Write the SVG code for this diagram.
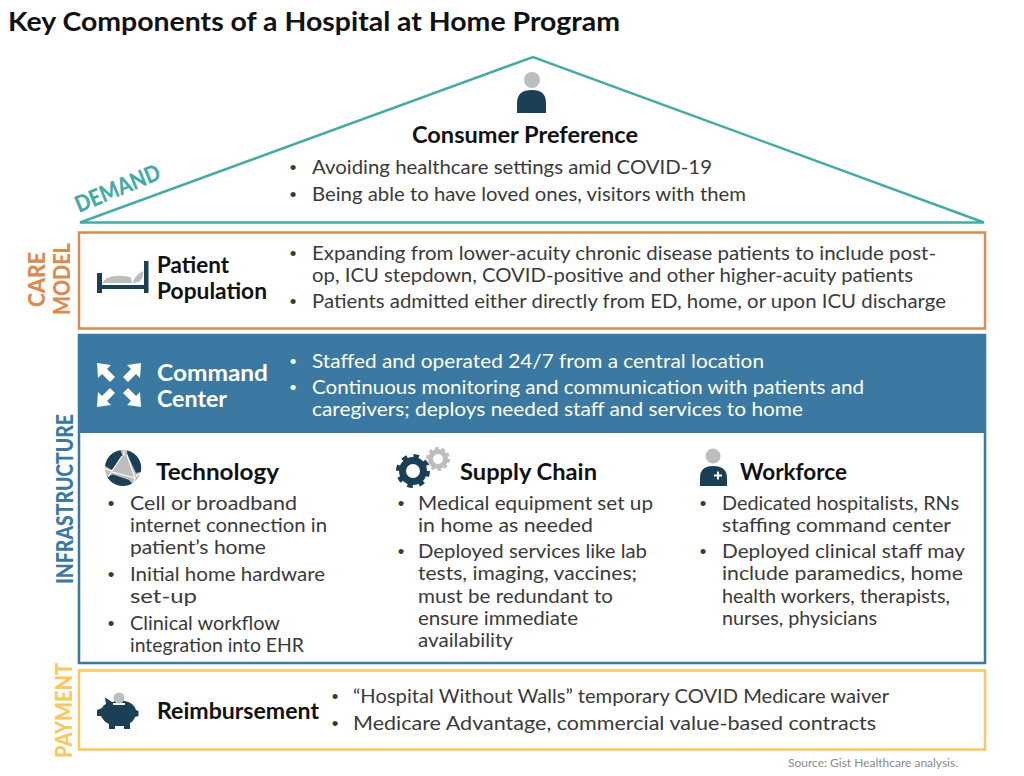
<svg xmlns="http://www.w3.org/2000/svg" width="1024" height="776" viewBox="0 0 1024 776">
<style>
text{font-family:"Lato","Liberation Sans",sans-serif}
.t{font-size:19px;fill:#3a3a3a}
.b{font-size:19px;fill:#3a3a3a;font-family:"Liberation Sans",sans-serif}
.w{font-size:19px;fill:#fff}
.bw{font-size:19px;fill:#fff;font-family:"Liberation Sans",sans-serif}
.h{font-size:23px;font-weight:700;fill:#111}
.hw{font-size:23px;font-weight:700;fill:#fff}
.lab{font-size:23px;font-weight:900}
.dk{fill:#1b3f55}.gy{fill:#bdbdbd}
</style>
<rect width="1024" height="776" fill="#fff"/>
<text x="8" y="31" font-size="27" font-weight="700" fill="#111" textLength="612" lengthAdjust="spacingAndGlyphs">Key Components of a Hospital at Home Program</text>

<g id="demand">
<path d="M80 222.500H984L533 57Z" fill="none" stroke="#45aba7" stroke-width="2.500"/>
<text class="lab" fill="#45aba7" transform="translate(79 213) rotate(-22.500)" textLength="90" lengthAdjust="spacingAndGlyphs">DEMAND</text>
<g id="consumer-icon"><circle class="gy" cx="532" cy="80" r="8"/><path class="dk" d="M517 113V103Q517 90 532 90Q546 90 546 103V113Z"/></g>
<text class="h" x="412" y="143" textLength="226" lengthAdjust="spacingAndGlyphs">Consumer Preference</text>
<text class="b" x="289.700" y="174">•</text><text class="t" x="312" y="174" textLength="400" lengthAdjust="spacingAndGlyphs">Avoiding healthcare settings amid COVID-19</text>
<text class="b" x="289.700" y="201">•</text><text class="t" x="312" y="201" textLength="434" lengthAdjust="spacingAndGlyphs">Being able to have loved ones, visitors with them</text>
</g>

<g id="care-model">
<rect x="79" y="232.500" width="906" height="96" fill="none" stroke="#dc8a4d" stroke-width="2.500"/>
<text class="lab" fill="#dc8a4d" transform="translate(44.500 307) rotate(-90)" textLength="55" lengthAdjust="spacingAndGlyphs">CARE</text>
<text class="lab" fill="#dc8a4d" transform="translate(70 315) rotate(-90)" textLength="72" lengthAdjust="spacingAndGlyphs">MODEL</text>
<g id="bed-icon"><path class="dk" d="M97 273h5v12h42v-24h4.500v32h-4.500v-4H102v4h-5Z"/><path class="gy" d="M103 283q1-5 9-6.500q10-2 19 1l1 5.500ZM133 283q1-7 10-12q1 7-4 11Z"/></g>
<text class="h" x="157" y="273" textLength="72" lengthAdjust="spacingAndGlyphs">Patient</text>
<text class="h" x="157" y="299" textLength="110" lengthAdjust="spacingAndGlyphs">Population</text>
<text class="b" x="289.700" y="260">•</text><text class="t" x="312" y="260" textLength="624" lengthAdjust="spacingAndGlyphs">Expanding from lower-acuity chronic disease patients to include post-</text>
<text class="t" x="312" y="282" textLength="601" lengthAdjust="spacingAndGlyphs">op, ICU stepdown, COVID-positive and other higher-acuity patients</text>
<text class="b" x="289.700" y="308">•</text><text class="t" x="312" y="308" textLength="634" lengthAdjust="spacingAndGlyphs">Patients admitted either directly from ED, home, or upon ICU discharge</text>
</g>

<g id="infrastructure">
<rect x="79" y="335" width="906" height="328" fill="none" stroke="#3b79a2" stroke-width="2.500"/>
<rect x="78" y="335" width="908" height="98" fill="#3b79a2"/>
<text class="lab" fill="#3b79a2" transform="translate(73 584) rotate(-90)" textLength="170" lengthAdjust="spacingAndGlyphs">INFRASTRUCTURE</text>
</g>

<g id="command-center">
<g id="arrows-icon" fill="#fff">
<path d="M97 363L111 365L107 369L115 377L110 382L102 374L98 378Z"/>
<path d="M97 363L111 365L107 369L115 377L110 382L102 374L98 378Z" transform="translate(238 0) scale(-1 1)"/>
<path d="M97 363L111 365L107 369L115 377L110 382L102 374L98 378Z" transform="translate(0 770) scale(1 -1)"/>
<path d="M97 363L111 365L107 369L115 377L110 382L102 374L98 378Z" transform="translate(238 770) scale(-1 -1)"/>
</g>
<text class="hw" x="157" y="380.500" textLength="111" lengthAdjust="spacingAndGlyphs">Command</text>
<text class="hw" x="157" y="406.500" textLength="70" lengthAdjust="spacingAndGlyphs">Center</text>
<text class="bw" x="289.700" y="368">•</text><text class="w" x="312" y="368" textLength="452" lengthAdjust="spacingAndGlyphs">Staffed and operated 24/7 from a central location</text>
<text class="bw" x="289.700" y="394">•</text><text class="w" x="312" y="394" textLength="552" lengthAdjust="spacingAndGlyphs">Continuous monitoring and communication with patients and</text>
<text class="w" x="312" y="416" textLength="491" lengthAdjust="spacingAndGlyphs">caregivers; deploys needed staff and services to home</text>
</g>

<g id="technology">
<g id="tech-icon"><circle class="gy" cx="123" cy="468" r="18"/>
<path class="dk" d="M120.500 450.200A18 18 0 0 0 105.100 466L112 470L122.500 456ZM127 450.500A18 18 0 0 1 140.800 472L136 473L127.500 455ZM107 476.500A18 18 0 0 0 132 483.500L129 480L113 474.500Z"/>
<path d="M124 451L124 456M122 456L112 471L108 477M127 455L135 478L134 484M112 472L135 478M105 469L112 471M136 476L141 473" stroke="#fff" stroke-width="1.200" fill="none"/>
</g>
<text class="h" x="156" y="480" textLength="123" lengthAdjust="spacingAndGlyphs">Technology</text>
<text class="b" x="107.700" y="510">•</text><text class="t" x="130" y="510" textLength="167" lengthAdjust="spacingAndGlyphs">Cell or broadband</text>
<text class="t" x="130" y="532" textLength="197" lengthAdjust="spacingAndGlyphs">internet connection in</text>
<text class="t" x="130" y="554" textLength="136" lengthAdjust="spacingAndGlyphs">patient’s home</text>
<text class="b" x="107.700" y="581">•</text><text class="t" x="130" y="581" textLength="195" lengthAdjust="spacingAndGlyphs">Initial home hardware</text>
<text class="t" x="130" y="603" textLength="67" lengthAdjust="spacingAndGlyphs">set-up</text>
<text class="b" x="107.700" y="630">•</text><text class="t" x="130" y="630" textLength="150" lengthAdjust="spacingAndGlyphs">Clinical workflow</text>
<text class="t" x="130" y="652" textLength="174" lengthAdjust="spacingAndGlyphs">integration into EHR</text>
</g>

<g id="supply-chain">
<g id="gears-icon">
<circle cx="438" cy="459" r="7.500" fill="none" stroke="#bdbdbd" stroke-width="5"/><circle cx="438" cy="459" r="10.500" fill="none" stroke="#bdbdbd" stroke-width="3" stroke-dasharray="3.500 3.100"/>
<circle cx="413" cy="471" r="10.500" fill="none" stroke="#1b3f55" stroke-width="7"/><circle cx="413" cy="471" r="15" fill="none" stroke="#1b3f55" stroke-width="4" stroke-dasharray="5.500 6.280"/>
</g>
<text class="h" x="460" y="480" textLength="137" lengthAdjust="spacingAndGlyphs">Supply Chain</text>
<text class="b" x="397.700" y="510">•</text><text class="t" x="418" y="510" textLength="235" lengthAdjust="spacingAndGlyphs">Medical equipment set up</text>
<text class="t" x="418" y="532" textLength="175" lengthAdjust="spacingAndGlyphs">in home as needed</text>
<text class="b" x="397.700" y="558">•</text><text class="t" x="418" y="558" textLength="229" lengthAdjust="spacingAndGlyphs">Deployed services like lab</text>
<text class="t" x="418" y="580" textLength="219" lengthAdjust="spacingAndGlyphs">tests, imaging, vaccines;</text>
<text class="t" x="418" y="603" textLength="195" lengthAdjust="spacingAndGlyphs">must be redundant to</text>
<text class="t" x="418" y="625" textLength="160" lengthAdjust="spacingAndGlyphs">ensure immediate</text>
<text class="t" x="418" y="647" textLength="95" lengthAdjust="spacingAndGlyphs">availability</text>
</g>

<g id="workforce">
<g id="worker-icon"><circle class="gy" cx="713" cy="456" r="7.500"/><path class="dk" d="M700 486V478Q700 466 713 466Q727 466 727 478V486Z"/><path fill="#fff" d="M717 471.500h2v3h3v2h-3v3h-2v-3h-3v-2h3Z"/></g>
<text class="h" x="740" y="480" textLength="107" lengthAdjust="spacingAndGlyphs">Workforce</text>
<text class="b" x="699.700" y="510">•</text><text class="t" x="722" y="510" textLength="237" lengthAdjust="spacingAndGlyphs">Dedicated hospitalists, RNs</text>
<text class="t" x="722" y="532" textLength="229" lengthAdjust="spacingAndGlyphs">staffing command center</text>
<text class="b" x="699.700" y="558">•</text><text class="t" x="722" y="558" textLength="243" lengthAdjust="spacingAndGlyphs">Deployed clinical staff may</text>
<text class="t" x="722" y="580" textLength="241" lengthAdjust="spacingAndGlyphs">include paramedics, home</text>
<text class="t" x="722" y="603" textLength="228" lengthAdjust="spacingAndGlyphs">health workers, therapists,</text>
<text class="t" x="722" y="625" textLength="155" lengthAdjust="spacingAndGlyphs">nurses, physicians</text>
</g>

<g id="payment">
<rect x="79" y="670.500" width="906" height="79" fill="none" stroke="#f9c85f" stroke-width="2.500"/>
<text class="lab" fill="#f9c85f" transform="translate(72 758) rotate(-90)" textLength="95" lengthAdjust="spacingAndGlyphs">PAYMENT</text>
<g id="piggy-icon"><path class="dk" d="M105 697.500L112 702Q118 700 125 701Q134 703 136 710L138.500 711V716L135 717Q133 722 130 723V729H124V726H115V729H109V724Q103 721 101 716H97V710L102 708Q103 705 106 704Z"/><path fill="#fff" d="M113 703h12v2h-12Z"/><circle class="gy" cx="119" cy="698" r="5.500"/></g>
<text class="h" x="157" y="719" textLength="162" lengthAdjust="spacingAndGlyphs">Reimbursement</text>
<text class="b" x="331.700" y="703">•</text><text class="t" x="353" y="703" textLength="536" lengthAdjust="spacingAndGlyphs">“Hospital Without Walls” temporary COVID Medicare waiver</text>
<text class="b" x="331.700" y="730">•</text><text class="t" x="353" y="730" textLength="523" lengthAdjust="spacingAndGlyphs">Medicare Advantage, commercial value-based contracts</text>
</g>
<text x="788" y="767" font-size="11" fill="#8a8a8a" textLength="170" lengthAdjust="spacingAndGlyphs">Source: Gist Healthcare analysis.</text>
</svg>
